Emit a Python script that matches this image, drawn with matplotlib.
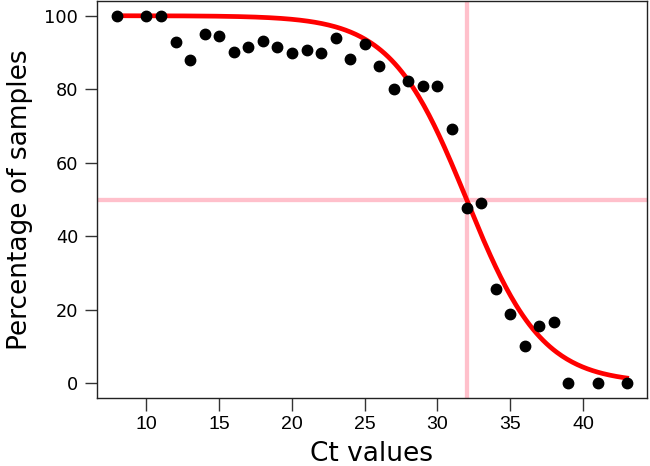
import numpy as np
import matplotlib
matplotlib.use('Agg')
import matplotlib.pyplot as plt

# Ct values and percentage of samples
ct = [8, 10, 11, 12, 13, 14, 15, 16, 17, 18, 19, 20, 21, 22, 23, 24, 25,
      26, 27, 28, 29, 30, 31, 32, 33, 34, 35, 36, 37, 38, 39, 41, 43]
pct = [100, 100, 100, 92.9, 88.0, 95.1, 94.5, 90.2, 91.6, 93.2, 91.6, 89.9,
       90.7, 89.9, 94.0, 88.3, 92.4, 86.4, 80.1, 82.3, 80.9, 80.9, 69.2,
       47.7, 49.0, 25.6, 18.8, 10.1, 15.5, 16.6, 0, 0, 0]

# fitted logistic curve parameters (midpoint, scale)
mid = 32
scale = 2.6
cutoff_y = 50
cutoff_x = 32

x_ticks = [10, 15, 20, 25, 30, 35, 40]
y_ticks = [0, 20, 40, 60, 80, 100]

fig = plt.figure(figsize=(6.5, 4.66), dpi=100)
ax = fig.add_axes([97 / 650, 1 - 398 / 466, 550 / 650, 397 / 466])

xs = np.linspace(min(ct), max(ct), 300)
fit = 100 / (1 + np.exp((xs - mid) / scale))

ax.axhline(cutoff_y, color='pink', lw=3.1, zorder=1)
ax.axvline(cutoff_x, color='pink', lw=3.1, zorder=1)
ax.plot(xs, fit, color='red', lw=3.4, zorder=2)
ax.plot(ct, pct, 'o', color='black', ms=7.5, zorder=3)

span = max(ct) - min(ct)
ax.set_xlim(min(ct) - 0.04 * span, max(ct) + 0.04 * span)
ax.set_ylim(-4, 104)

ax.set_xticks(x_ticks)
ax.set_yticks(y_ticks)
ax.tick_params(axis='x', length=9, width=1, color='#333333', pad=4, labelsize=14)
ax.tick_params(axis='y', length=8.5, width=1, color='#333333', pad=5, labelsize=12.8)
for lab in ax.get_xticklabels():
    lab.set_family('Liberation Sans')

for s in ax.spines.values():
    s.set_color('#222222')
    s.set_linewidth(1)

ax.set_xlabel('Ct values', fontsize=19, labelpad=6)
ax.set_ylabel('Percentage of samples', fontsize=19, labelpad=8)

fig.savefig('out.png', dpi=100)
